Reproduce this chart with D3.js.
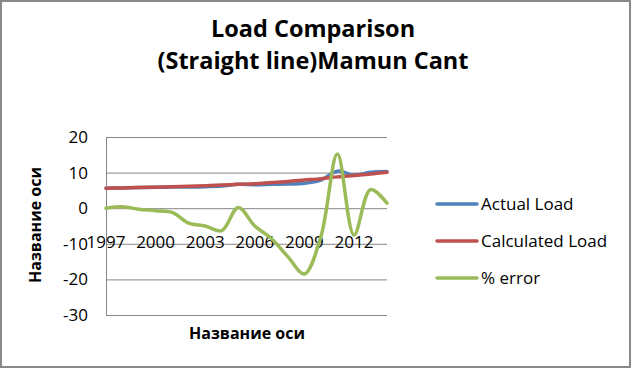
<!DOCTYPE html>
<html>
<head>
<meta charset="utf-8">
<script src="https://cdn.jsdelivr.net/npm/d3@7"></script>
<style>
    body { margin: 0; background: #fff; }
    text { font-family: "Open Sans", sans-serif; fill: #000; }
</style>
</head>
<body>
<div id="chart"></div>
<script>
// categories and series
const years = [1997, 1998, 1999, 2000, 2001, 2002, 2003, 2004, 2005, 2006,
               2007, 2008, 2009, 2010, 2011, 2012, 2013, 2014];
const yearLabels = [1997, 2000, 2003, 2006, 2009, 2012];
const actualLoad = [5.6, 5.7, 5.8, 5.85, 5.95, 5.95, 6.05, 6.2, 6.7, 6.6,
                    6.7, 6.8, 7.0, 7.9, 10.4, 9.3, 10.1, 10.3];
const calculatedLoad = [5.6, 5.7, 5.8, 5.9, 6.0, 6.15, 6.3, 6.5, 6.7, 6.9,
                        7.2, 7.5, 7.9, 8.3, 8.8, 9.2, 9.6, 10.1];
const percentError = [0, 0.4, -0.3, -0.7, -1.2, -4.2, -5.0, -6.3, 0.2, -5.0,
                      -8.5, -13.6, -18.5, -8.0, 15.2, -7.5, 5.2, 1.4];
const yTicks = [20, 10, 0, -10, -20, -30];

const seriesList = [
    {name: 'Actual Load', values: actualLoad, color: '#4F81BD'},
    {name: 'Calculated Load', values: calculatedLoad, color: '#C0504D'},
    {name: '% error', values: percentError, color: '#9BBB59'}
];

const W = 635, H = 374;
const plot = {left: 106, right: 387, top: 137, bottom: 315};

const svg = d3.select('#chart').append('svg')
    .attr('width', W)
    .attr('height', H);

// outer frame
svg.append('rect')
    .attr('x', 1).attr('y', 1)
    .attr('width', 629).attr('height', 366)
    .attr('fill', 'none')
    .attr('stroke', '#898989')
    .attr('stroke-width', 2);

// title
svg.append('text')
    .attr('x', 313).attr('y', 37)
    .attr('text-anchor', 'middle')
    .style('font-size', '23.5px').style('font-weight', 'bold')
    .text('Load Comparison');
svg.append('text')
    .attr('x', 313).attr('y', 69)
    .attr('text-anchor', 'middle')
    .style('font-size', '23.5px').style('font-weight', 'bold')
    .text('(Straight line)Mamun Cant');

// scales
let x = d3.scalePoint()
    .domain(years)
    .range([plot.left, plot.right]);

let y = d3.scaleLinear()
    .domain([-30, 20])
    .range([plot.bottom, plot.top]);

// gridlines + y labels
let yAxis = d3.axisLeft(y)
    .tickValues(yTicks)
    .tickSize(-(plot.right - plot.left))
    .tickPadding(18)
    .tickFormat(d => String(d));

let gy = svg.append('g')
    .attr('transform', `translate(${plot.left},0)`)
    .call(yAxis);
gy.select('.domain').attr('stroke', '#868686');
gy.selectAll('.tick line').attr('stroke', '#868686');
gy.selectAll('.tick text')
    .style('font-size', '17px')
    .style('font-family', '"Open Sans", sans-serif')
    .attr('fill', '#000');

// category labels (sit just below the 0 axis line)
svg.append('g').selectAll('text')
    .data(yearLabels)
    .join('text')
    .attr('x', d => x(d))
    .attr('y', 248)
    .attr('text-anchor', 'middle')
    .style('font-size', '17px')
    .text(d => d);

// axis titles
svg.append('text')
    .attr('transform', 'translate(41,225) rotate(-90)')
    .attr('text-anchor', 'middle')
    .style('font-size', '16px').style('font-weight', 'bold')
    .text('Название оси');
svg.append('text')
    .attr('x', 247).attr('y', 339)
    .attr('text-anchor', 'middle')
    .style('font-size', '16px').style('font-weight', 'bold')
    .text('Название оси');

// smoothed lines
let line = d3.line()
    .x((d, i) => x(years[i]))
    .y(d => y(d))
    .curve(d3.curveCatmullRom.alpha(0.5));

svg.append('g').selectAll('path')
    .data(seriesList)
    .join('path')
    .attr('d', d => line(d.values))
    .attr('fill', 'none')
    .attr('stroke', d => d.color)
    .attr('stroke-width', 3.5)
    .attr('stroke-linejoin', 'round')
    .attr('stroke-linecap', 'round');

// legend
let legend = svg.append('g').selectAll('g')
    .data(seriesList)
    .join('g')
    .attr('transform', (d, i) => `translate(437, ${204 + i * 37})`);

legend.append('line')
    .attr('x1', 0).attr('x2', 40)
    .attr('stroke', d => d.color)
    .attr('stroke-width', 3.5)
    .attr('stroke-linecap', 'round');

legend.append('text')
    .attr('x', 44)
    .attr('dy', '0.35em')
    .style('font-size', '17px')
    .text(d => d.name);
</script>
</body>
</html>
